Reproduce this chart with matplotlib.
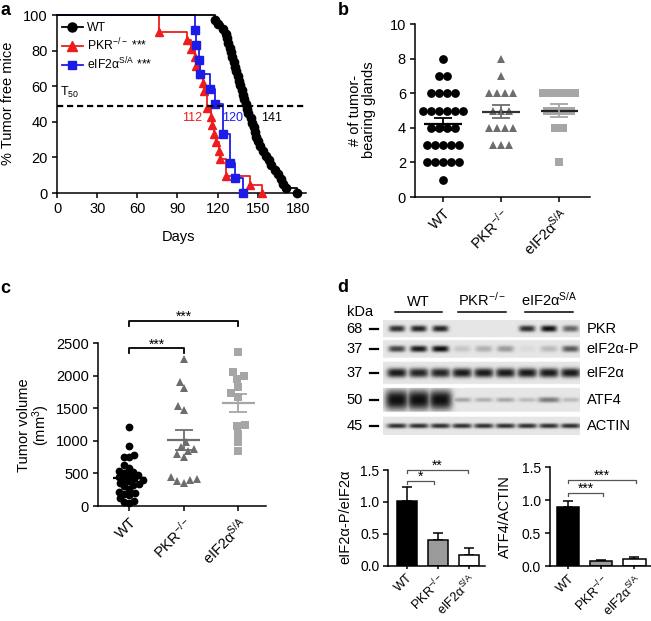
import numpy as np
import matplotlib
matplotlib.use('Agg')
import matplotlib.pyplot as plt
from matplotlib.lines import Line2D

plt.rcParams['font.family'] = ['Liberation Sans', 'DejaVu Sans']
plt.rcParams['mathtext.fontset'] = 'custom'
plt.rcParams['mathtext.rm'] = 'Liberation Sans'
plt.rcParams['mathtext.it'] = 'Liberation Sans:italic'
plt.rcParams['mathtext.bf'] = 'Liberation Sans:bold'

# ---- data ----
groups = ['WT', r'PKR$^{\mathrm{-/-}}$', r'eIF2α$^{\mathrm{S/A}}$']

# a: tumor onset days (events)
wt_days = [118, 120, 124, 126, 127, 128, 129, 130, 131, 132, 133, 134, 135, 136, 137, 138, 139,
           140, 141, 142, 143, 145, 146, 147, 148, 149, 150, 152, 154, 156, 158, 160, 163, 165,
           167, 169, 171, 179]
pkr_days = [76, 76, 97, 100, 103, 104, 107, 109, 110, 112, 112, 115, 116, 117, 119, 121, 122,
            126, 126, 144, 153]
eif_days = [103, 104, 106, 107, 114, 118, 124, 124, 129, 129, 133, 139]
medians = [141, 112, 120]

# b: number of tumor-bearing glands
glands_wt = [8, 7, 7, 6, 6, 6, 6, 5, 5, 5, 5, 5, 5, 4, 4, 4, 4, 3, 3, 3, 3, 3, 2, 2, 2, 2, 2, 1]
glands_pkr = [8, 7, 6, 6, 6, 6, 5, 5, 5, 4, 4, 4, 4, 3, 3, 3]
glands_eif = [6, 6, 6, 6, 6, 5, 5, 5, 5, 4, 4, 2]

# c: tumor volume (mm3)
vol_wt = [1220, 920, 790, 760, 750, 630, 590, 540, 520, 500, 480, 470, 450, 430, 410, 400, 380,
          350, 340, 320, 300, 260, 220, 200, 190, 170, 120, 80, 60, 40]
vol_pkr = [2260, 1900, 1810, 1540, 1480, 980, 900, 880, 850, 800, 760, 440, 410, 350, 400, 390]
vol_eif = [2370, 2060, 2000, 1950, 1830, 1740, 1680, 1240, 1230, 1110, 980, 850]

# d: western blot band intensities (9 lanes)
blot_names = ['PKR', 'eIF2α-P', 'eIF2α', 'ATF4', 'ACTIN']
blot_kda = ['68', '37', '37', '50', '45']
band_pkr = [0.85, 0.9, 0.9, 0, 0, 0, 0.85, 1.0, 0.6]
band_eifp = [0.75, 0.95, 1.0, 0.15, 0.25, 0.35, 0.05, 0.2, 0.65]
band_eif = [0.95, 0.9, 0.9, 0.95, 0.95, 0.95, 0.95, 0.95, 0.95]
band_atf4 = [1.0, 1.0, 1.0, 0.3, 0.25, 0.3, 0.2, 0.5, 0.2]
band_actin = [0.85, 0.85, 0.85, 0.85, 0.85, 0.85, 0.85, 0.85, 0.85]

# d: quantification
ratio_p = [1.02, 0.41, 0.17]
ratio_p_err = [0.21, 0.095, 0.10]
ratio_atf4 = [0.89, 0.08, 0.10]
ratio_atf4_err = [0.10, 0.015, 0.03]

# ---- figure ----
W, H = 651, 621
fig = plt.figure(figsize=(W / 100, H / 100), dpi=100)


def rect(l, t, r, b):
    return [l / W, 1 - b / H, (r - l) / W, (b - t) / H]


def style(ax, fs=10.5):
    for s in ['top', 'right']:
        ax.spines[s].set_visible(False)
    for s in ['left', 'bottom']:
        ax.spines[s].set_linewidth(1.1)
    ax.tick_params(direction='out', length=3.5, width=1.1, labelsize=fs, pad=3)


def letter(x, y, s):
    fig.text(x / W, 1 - y / H, s, fontsize=13, fontweight='bold', ha='left', va='baseline')


# ---------- a ----------
ax = fig.add_axes(rect(57, 15, 306, 193))
style(ax)
ax.set_xlim(0, 186)
ax.set_ylim(0, 100)
ax.set_xticks(range(0, 181, 30))
ax.set_yticks(range(0, 101, 20))


def km(days):
    days = np.sort(np.array(days))
    n = len(days)
    t = np.unique(days)
    s = [100 * (1 - np.sum(days <= ti) / n) for ti in t]
    xs, ys, prev = [0], [100], 100
    for ti, si in zip(t, s):
        xs += [ti, ti]
        ys += [prev, si]
        prev = si
    return xs, ys, t, s


curves = [(wt_days, 'black', 'o', 6, 6), (pkr_days, '#ee1c1c', '^', 6, 4),
          (eif_days, '#1c1ce8', 's', 5.5, 5)]
handles = []
for days, col, mk, ms, z in curves:
    xs, ys, t, s = km(days)
    ax.plot(xs, ys, color=col, lw=1.3, zorder=z, clip_on=False)
    ax.plot(t, s, mk, color=col, ms=ms, zorder=z, clip_on=False)
    handles.append(Line2D([], [], color=col, lw=1.3, marker=mk, ms=ms + 0.5))

ax.axhline(49, color='black', lw=1.6, ls=(0, (2.8, 1.7)), zorder=7)
ax.text(2, 56.5, r'T$_{50}$', fontsize=9, ha='left', va='center')
for m, col, xp in zip(medians, ['black', '#ee1c1c', '#1c1ce8'], [160.6, 100.8, 131.4]):
    ax.text(xp, 42, str(m), color=col, fontsize=9, ha='center', va='center')

ax.legend(handles, ['WT', r'PKR$^{\mathrm{-/-}}$ ***', r'eIF2α$^{\mathrm{S/A}}$ ***'],
          loc='upper left', bbox_to_anchor=(5 / 249, 171 / 178), frameon=False, fontsize=8.8,
          handlelength=1.7, handletextpad=0.35, labelspacing=0.2, borderaxespad=0, borderpad=0)
ax.set_xlabel('Days', fontsize=10.5)
ax.xaxis.set_label_coords(0.486, -0.208)
ax.set_ylabel('% Tumor free mice', fontsize=10.5, va='center')
ax.yaxis.set_label_coords(-0.196, 0.506)
letter(0.5, 15, 'a')

# ---------- b ----------
ax = fig.add_axes(rect(415, 24, 590, 197))
style(ax)
ax.set_xlim(-0.48, 2.53)
ax.set_ylim(0, 10)
ax.set_yticks(range(0, 11, 2))
ax.set_xticks([0, 1, 2])
ax.set_xticklabels(groups, rotation=45, ha='right', rotation_mode='anchor')
b_sets = [(glands_wt, 'black', 'o', 6.3, 'black'), (glands_pkr, '#6d6d6d', '^', 6.3, '#333333'),
          (glands_eif, '#a6a6a6', 's', 6, '#222222')]
for i, (vals, col, mk, ms, lc) in enumerate(b_sets):
    vals = np.array(vals)
    xs = np.zeros(len(vals))
    for v in np.unique(vals):
        idx = np.where(vals == v)[0]
        k = len(idx)
        xs[idx] = i + (np.arange(k) - (k - 1) / 2) * 0.135
    ax.plot(xs, vals, mk, color=col, ms=ms, mew=0, zorder=3, clip_on=False)
    mean = vals.mean()
    sem = vals.std(ddof=1) / np.sqrt(len(vals))
    ax.hlines(mean, i - 0.32, i + 0.32, color=lc, lw=1.6, zorder=4)
    ax.errorbar(i, mean, yerr=sem, color=col if i else 'black', capsize=6.5, lw=1.3,
                capthick=1.3, zorder=4)
ax.set_ylabel('# of tumor-\nbearing glands', fontsize=10.5, va='center', linespacing=1.0)
ax.yaxis.set_label_coords(-0.303, 0.503)
letter(338, 15, 'b')

# ---------- c ----------
ax = fig.add_axes(rect(98, 343.3, 266, 506))
style(ax, 10.5)
ax.set_xlim(-0.574, 2.508)
ax.set_ylim(0, 2500)
ax.set_yticks(range(0, 2501, 500))
ax.set_xticks([0, 1, 2])
ax.set_xticklabels(groups, rotation=45, ha='right', rotation_mode='anchor')

ppu_y = 162.7 / 2500
ppu_x = 54.5


def swarm(vals, d):
    vals = np.array(vals, dtype=float)
    offs = np.zeros(len(vals))
    placed = []
    for i in np.argsort(vals):
        y = vals[i] * ppu_y
        cands = [0.0]
        for px, py in placed:
            dy = y - py
            if abs(dy) < d:
                dx = np.sqrt(d * d - dy * dy)
                cands += [px + dx, px - dx]
        cands.sort(key=lambda c: (abs(c), c))
        for c in cands:
            if all((c - px) ** 2 + (y - py) ** 2 >= d * d - 1e-6 for px, py in placed):
                break
        placed.append((c, y))
        offs[i] = c
    return offs / ppu_x


c_sets = [(vol_wt, 'black', 'o', 5.6, 5.6), (vol_pkr, '#6d6d6d', '^', 5.8, 7),
          (vol_eif, '#a6a6a6', 's', 5.2, 8)]
for i, (vals, col, mk, ms, dd) in enumerate(c_sets):
    vals = np.array(vals)
    ax.plot(i + swarm(vals, dd), vals, mk, color=col, ms=ms, mew=0, zorder=3, clip_on=False)
    mean = vals.mean()
    sem = vals.std(ddof=1) / np.sqrt(len(vals))
    ax.hlines(mean, i - 0.3, i + 0.3, color=col, lw=1.6, zorder=4)
    ax.errorbar(i, mean, yerr=sem, color=col, capsize=6.5, lw=1.3, capthick=1.3, zorder=4)

for x2, yb, yt in [(1, 2350, 2422), (2, 2770, 2842)]:
    ax.plot([0, 0, x2, x2], [yb, yt, yt, yb], color='black', lw=1.3, clip_on=False)
    ax.text(x2 / 2, yt, '***', ha='center', va='baseline', fontsize=10)
ax.set_ylabel('Tumor volume\n(mm$^3$)', fontsize=10.5, va='center', linespacing=1.0)
ax.yaxis.set_label_coords(-0.378, 0.498)
letter(0.5, 293, 'c')

# ---------- d: blot ----------
bx = fig.add_axes(rect(383, 320, 580, 435))
bx.axis('off')
strips = [(320, 337.3), (340, 357.7), (361.7, 384), (388, 411.7), (416.7, 435)]
band_shape = [(8, 3.2, 0), (8.5, 3.2, 0), (10, 4.6, 0), (9, 2.2, 3.5), (10, 2.4, 0)]
bands = [band_pkr, band_eifp, band_eif, band_atf4, band_actin]
lane_x = [397 + 21.7 * k for k in range(9)]
xs = np.arange(383, 580, 0.25) + 0.125
ys = np.arange(320, 435, 0.25) + 0.125
X, Y = np.meshgrid(xs, ys)
img = np.ones_like(X)
for r, (top, bot) in enumerate(strips):
    inside = (Y >= top) & (Y <= bot)
    yc = (top + bot) / 2
    wx, wy, grow = band_shape[r]
    dark = np.zeros_like(X)
    for k, I in enumerate(bands[r]):
        g = 1 + grow * I ** 4
        d = I * np.exp(-(np.abs(X - lane_x[k]) / (wx * min(g, 1.3))) ** 4
                       - (np.abs(Y - yc) / (wy * g)) ** 2.5)
        dark = np.maximum(dark, d)
    bg = 0.9
    img[inside] = (bg - (bg - 0.06) * dark)[inside]
bx.imshow(img, cmap='gray', vmin=0, vmax=1, extent=(383, 580, 435, 320),
          interpolation='bilinear', aspect='auto')
bx.set_xlim(383, 580)
bx.set_ylim(435, 320)
for (top, bot), name, kd in zip(strips, blot_names, blot_kda):
    yc = (top + bot) / 2
    bx.text(586.7, yc, name, ha='left', va='center', fontsize=10.5, clip_on=False)
    bx.text(363, yc, kd, ha='right', va='center', fontsize=10.5, clip_on=False)
    bx.plot([370, 378.3], [yc, yc], color='black', lw=1.6, clip_on=False)
bx.text(360, 312, 'kDa', ha='center', va='center', fontsize=10.5, clip_on=False)
for lab, xc, (x1, x2) in zip(groups, [418.5, 482, 549], [(395, 442), (458, 506), (525, 573)]):
    bx.text(xc, 306, lab, ha='center', va='baseline', fontsize=10.5, clip_on=False)
    bx.plot([x1, x2], [312.3, 312.3], color='black', lw=1.1, clip_on=False)
letter(337, 291.7, 'd')

# ---------- d: bar charts ----------
bar_sets = [
    (rect(388.3, 470, 485, 565.7), (-0.6, 2.52), ratio_p, ratio_p_err, 'eIF2α-P/eIF2α',
     [('*', 0.87, 1.28, 1.328), ('**', 1.98, 1.45, 1.5)], (-0.448, 0.512)),
    (rect(550, 467.3, 651, 566), (-0.555, 2.5), ratio_atf4, ratio_atf4_err, 'ATF4/ACTIN',
     [('***', 1.04, 1.06, 1.105), ('***', 2.05, 1.26, 1.307)], (-0.446, 0.5)),
]
for r_, xl, vals, errs, ylab, brs, lc in bar_sets:
    ax = fig.add_axes(r_)
    style(ax, 10)
    ax.set_xlim(*xl)
    ax.set_ylim(0, 1.5)
    ax.set_yticks([0, 0.5, 1.0, 1.5])
    ax.set_yticklabels(['0.0', '0.5', '1.0', '1.5'])
    ax.set_xticks([0, 1, 2])
    ax.set_xticklabels(groups, rotation=45, ha='right', rotation_mode='anchor', fontsize=9.2)
    ax.tick_params(axis='x', length=2.5, pad=2)
    ax.bar([0, 1, 2], vals, width=0.67, color=['black', '#9b9b9b', 'white'],
           edgecolor='black', lw=1.1, zorder=2)
    ax.errorbar([0, 1, 2], vals, yerr=[np.zeros(3), errs], fmt='none', ecolor='black',
                capsize=3.6, lw=1.1, capthick=1.1, zorder=1)
    for stars, x2, yb, yt in brs:
        ax.plot([0, 0, x2, x2], [yb, yt, yt, yb], color='#555555', lw=0.9, clip_on=False)
        ax.text(x2 / 2, yt + 0.01, stars, ha='center', va='baseline', fontsize=10)
    ax.set_ylabel(ylab, fontsize=10.5, va='center')
    ax.yaxis.set_label_coords(*lc)

fig.savefig('out.png', dpi=100)
